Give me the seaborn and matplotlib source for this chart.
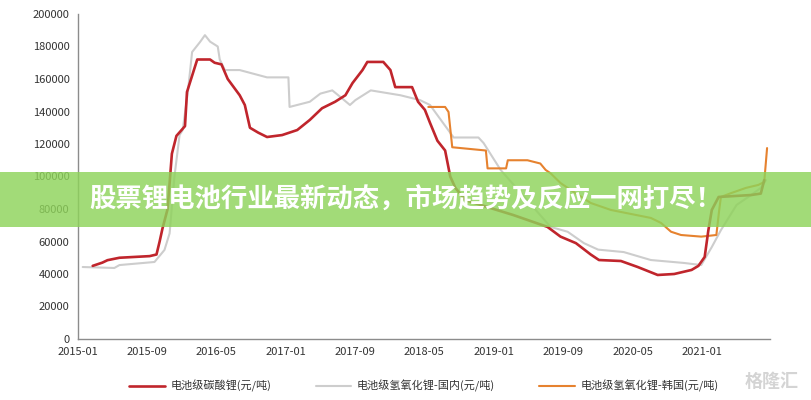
import numpy as np
import pandas as pd
import matplotlib
matplotlib.use("Agg")
import matplotlib.pyplot as plt
import matplotlib.dates as mdates
from matplotlib.patches import Rectangle
import seaborn as sns

# ---- data ----
red_dates = ["2015-02-22", "2015-03-28", "2015-04-15", "2015-05-27", "2015-09-10", "2015-10-04",
             "2015-10-15", "2015-10-25", "2015-11-12", "2015-11-27", "2015-12-13", "2016-01-12",
             "2016-01-19", "2016-02-24", "2016-04-09", "2016-04-25", "2016-05-19", "2016-06-10",
             "2016-07-22", "2016-08-09", "2016-08-27", "2016-09-25", "2016-10-26", "2016-12-18",
             "2017-02-09", "2017-03-25", "2017-05-07", "2017-06-22", "2017-07-28", "2017-08-22",
             "2017-09-26", "2017-10-13", "2017-12-08", "2018-01-02", "2018-01-19", "2018-03-19",
             "2018-04-09", "2018-05-03", "2018-05-21", "2018-06-16", "2018-07-13", "2018-07-31",
             "2018-08-18", "2018-09-22", "2018-12-19", "2019-03-09", "2019-07-07", "2019-08-22",
             "2019-10-15", "2019-12-06", "2020-01-04", "2020-03-21", "2020-05-19", "2020-07-28",
             "2020-09-24", "2020-11-24", "2020-12-18", "2021-01-09", "2021-01-22", "2021-02-03",
             "2021-02-27", "2021-06-21", "2021-07-25", "2021-08-06"]
red_vals = [45000, 47000, 48500, 50000, 51000, 52000,
            60000, 68000, 80000, 114000, 125000, 131000,
            152000, 172000, 172000, 170000, 169000, 160000,
            150000, 144000, 130000, 127000, 124300, 125500,
            128600, 134800, 142000, 146000, 150000, 157500,
            165500, 170500, 170500, 165500, 155000, 155000,
            146000, 141000, 133000, 122000, 116000, 100000,
            93000, 85500, 80600, 76300, 69000, 63000,
            59000, 52000, 48600, 48000, 44300, 39400,
            40000, 42500, 45000, 50500, 67000, 79400,
            87400, 88600, 89500, 97800]

gray_dates = ["2015-01-18", "2015-05-09", "2015-05-27", "2015-09-27", "2015-11-01", "2015-11-19",
              "2015-12-06", "2015-12-24", "2016-01-04", "2016-01-22", "2016-02-06", "2016-03-05",
              "2016-03-22", "2016-04-09", "2016-05-06", "2016-05-13", "2016-05-31", "2016-07-22",
              "2016-10-26", "2017-01-09", "2017-01-13", "2017-03-25", "2017-05-01", "2017-06-12",
              "2017-07-10", "2017-08-13", "2017-09-01", "2017-10-25", "2018-02-06", "2018-04-16",
              "2018-05-21", "2018-08-12", "2018-11-07", "2018-11-25", "2019-01-24", "2019-04-04",
              "2019-07-18", "2019-09-16", "2019-11-12", "2020-01-01", "2020-03-31", "2020-07-04",
              "2020-10-28", "2020-12-28", "2021-02-03", "2021-03-07", "2021-05-01", "2021-06-21",
              "2021-07-25", "2021-08-12"]
gray_vals = [44300, 43700, 45500, 47400, 54800, 65000,
             100000, 125500, 128600, 152000, 176600, 182800,
             187000, 183000, 180000, 172000, 165500, 165500,
             161000, 161000, 142800, 146000, 151000, 153000,
             149000, 144000, 147000, 153000, 150000, 147000,
             144000, 124000, 124000, 120600, 104000, 90000,
             69000, 66000, 59000, 55000, 53500, 48600,
             46800, 45500, 56600, 67000, 82500, 88600,
             93000, 97800]

orange_dates = ["2018-05-15", "2018-07-13", "2018-07-25", "2018-08-07", "2018-12-03", "2018-12-09",
                "2019-02-12", "2019-02-18", "2019-04-28", "2019-06-12", "2019-07-01", "2019-07-18",
                "2019-08-22", "2019-09-27", "2019-12-06", "2020-02-15", "2020-07-04", "2020-08-09",
                "2020-09-13", "2020-10-18", "2020-12-28", "2021-02-19", "2021-03-01", "2021-03-07",
                "2021-04-12", "2021-06-03", "2021-07-16", "2021-08-06", "2021-08-16"]
orange_vals = [142800, 142800, 139700, 118000, 116000, 105000,
               105000, 110000, 110000, 108000, 104000, 102000,
               96000, 91700, 83700, 79400, 74500, 71400,
               66000, 64000, 63000, 64000, 79400, 87400,
               89800, 93000, 94800, 96600, 117500]

series_names = ["电池级碳酸锂(元/吨)", "电池级氢氧化锂-国内(元/吨)", "电池级氢氧化锂-韩国(元/吨)"]
tick_labels = ["2015-01", "2015-09", "2016-05", "2017-01", "2017-09", "2018-05",
               "2019-01", "2019-09", "2020-05", "2021-01"]
y_ticks = [0, 20000, 40000, 60000, 80000, 100000, 120000, 140000, 160000, 180000, 200000]
title_text = "股票锂电池行业最新动态，市场趋势及反应一网打尽！"

# ---- style ----
sns.set_style("white")
plt.rcParams['font.family'] = ['Noto Sans CJK SC', 'DejaVu Sans']

fig = plt.figure(figsize=(8.11, 4.0), dpi=100)
ax = fig.add_axes([0.096, 0.1525, 0.853, 0.8125])

colors = ["#c0252c", "#cdcdcd", "#e6822f"]
widths = [1.9, 1.5, 1.5]
all_dates = [red_dates, gray_dates, orange_dates]
all_vals = [red_vals, gray_vals, orange_vals]
order = [1, 2, 0]
for i in order:
    df = pd.DataFrame({"date": pd.to_datetime(all_dates[i]), "value": all_vals[i]})
    sns.lineplot(data=df, x="date", y="value", ax=ax, color=colors[i], lw=widths[i],
                 sort=False, estimator=None, label=series_names[i], zorder=3 + (i == 0))

ax.set_ylim(0, 200000)
ax.set_xlim(pd.Timestamp("2015-01-01"), pd.Timestamp("2021-08-25"))
ax.set_yticks(y_ticks)
ax.set_yticklabels([str(v) for v in y_ticks])
ax.set_xticks(pd.to_datetime([t + "-01" for t in tick_labels]))
ax.set_xticklabels(tick_labels)
ax.set_xlabel("")
ax.set_ylabel("")
for s in ["top", "right"]:
    ax.spines[s].set_visible(False)
for s in ["left", "bottom"]:
    ax.spines[s].set_color("#8c8c8c")
    ax.spines[s].set_linewidth(1.0)
ax.tick_params(axis="both", labelsize=8, colors="#333333", length=3, width=0.8,
               direction="out", pad=3)
ax.tick_params(axis="both", color="#8c8c8c")

# legend
handles, labels = ax.get_legend_handles_labels()
hmap = dict(zip(labels, handles))
leg = ax.legend([hmap[n] for n in series_names], series_names, loc="center",
                bbox_to_anchor=(0.5, -0.145), ncol=3, frameon=False, fontsize=8,
                handlelength=3.2, columnspacing=4.0, handletextpad=0.5)
for t in leg.get_texts():
    t.set_color("#333333")

# green banner with title
fig.patches.append(Rectangle((0, 1 - 227 / 400), 1, 55 / 400, transform=fig.transFigure,
                             facecolor="#8ed35a", alpha=0.82, edgecolor="none", zorder=10))
fig.text(0.5, 1 - 200 / 400, title_text, ha="center", va="center", color="white",
         fontsize=19, fontweight="heavy", zorder=11)

# watermark
fig.text(0.985, 1 - 381 / 400, "格隆汇", ha="right", va="center", color="#d0d0d0",
         fontsize=13, fontweight="bold", zorder=11, alpha=0.9)

fig.savefig("out.png", dpi=100)
